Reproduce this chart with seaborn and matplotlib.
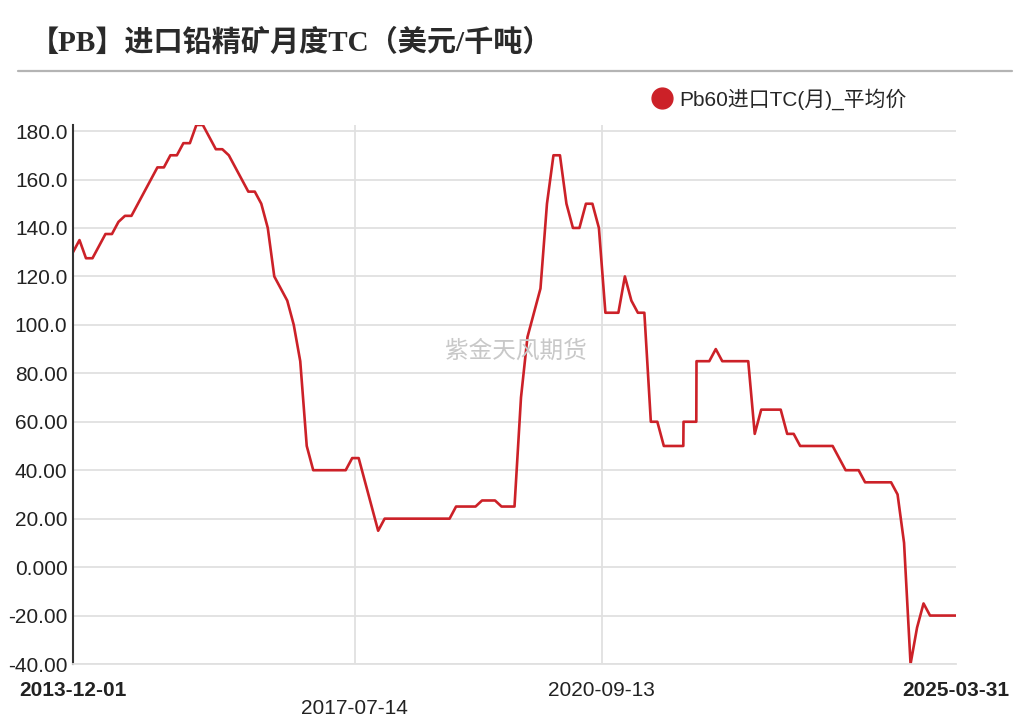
import matplotlib
matplotlib.use("Agg")
import matplotlib.pyplot as plt
from matplotlib.lines import Line2D
import seaborn as sns
import pandas as pd

# monthly TC, 2013-12 .. 2025-03
tc = [130, 135, 127.5, 127.5, 132.5, 137.5, 137.5, 142.5, 145, 145,
      150, 155, 160, 165, 165, 170, 170, 175, 175, 182.5,
      182.5, 177.5, 172.5, 172.5, 170, 165, 160, 155, 155, 150,
      140, 120, 115, 110, 100, 85, 50, 40, 40, 40,
      40, 40, 40, 45, 45, 35, 25, 15, 20, 20,
      20, 20, 20, 20, 20, 20, 20, 20, 20, 25,
      25, 25, 25, 27.5, 27.5, 27.5, 25, 25, 25, 70,
      95, 105, 115, 150, 170, 170, 150, 140, 140, 150,
      150, 140, 105, 105, 105, 120, 110, 105, 105, 60,
      60, 50, 50, 50, 50, 60, 60, 85, 85, 90,
      85, 85, 85, 85, 85, 55, 65, 65, 65, 65,
      55, 55, 50, 50, 50, 50, 50, 50, 45, 40,
      40, 40, 35, 35, 35, 35, 35, 30, 10, -40,
      -25, -15, -20, -20, -20, -20, -20]
# same-month revisions (vertical steps in the source line)
step_idx = [94, 96]
step_val = [60, 85]

start, end = "2013-12-01", "2025-03-31"
xtick_dates = ["2013-12-01", "2017-07-14", "2020-09-13", "2025-03-31"]
ytick_vals = [-40, -20, 0, 20, 40, 60, 80, 100, 120, 140, 160, 180]
ytick_labels = ["-40.00", "-20.00", "0.000", "20.00", "40.00", "60.00",
                "80.00", "100.0", "120.0", "140.0", "160.0", "180.0"]

dates = pd.date_range(start, end, periods=len(tc))
df = pd.DataFrame({"date": dates, "tc": tc})
extra = pd.DataFrame({"date": [dates[i] + pd.Timedelta(days=1) for i in step_idx],
                      "tc": step_val})
df = pd.concat([df, extra]).sort_values("date").reset_index(drop=True)

sns.set_theme(style="white")
plt.rcParams["font.family"] = ["Liberation Sans", "Noto Sans CJK SC", "DejaVu Sans"]

fig = plt.figure(figsize=(10.31, 7.19), dpi=100)
ax = fig.add_axes([73 / 1031, 55 / 719, 883 / 1031, 539 / 719])

red = "#cc2128"
grid_c = "#e0e0e0"

for v in ytick_vals:
    ax.axhline(v, color=grid_c, lw=1.3, zorder=0)
for d in xtick_dates[1:3]:
    ax.axvline(pd.Timestamp(d), color=grid_c, lw=1.3, zorder=0)

sns.lineplot(data=df, x="date", y="tc", estimator=None, sort=False,
             color=red, lw=1.9, ax=ax)

ax.set_xlim(pd.Timestamp(start), pd.Timestamp(end))
ax.set_ylim(-40, 182.5)
ax.set_xlabel("")
ax.set_ylabel("")

ax.set_yticks(ytick_vals)
ax.set_yticklabels(ytick_labels, fontsize=15, color="#222222")
ax.set_xticks([pd.Timestamp(d) for d in xtick_dates])
ax.set_xticklabels(xtick_dates, fontsize=15, color="#222222")
ax.tick_params(axis="both", length=0)
ax.tick_params(axis="y", pad=4)
ax.tick_params(axis="x", pad=12)
labels = ax.get_xticklabels()
labels[0].set_fontweight("bold")
labels[-1].set_fontweight("bold")
ax.xaxis.get_major_ticks()[1].set_pad(25)

for s in ["top", "right"]:
    ax.spines[s].set_visible(False)
ax.spines["left"].set_color("#333333")
ax.spines["left"].set_linewidth(1.5)
ax.spines["bottom"].set_color(grid_c)
ax.spines["bottom"].set_linewidth(1.3)

# watermark
ax.text(0.502, 0.581, "紫金天风期货", transform=ax.transAxes, ha="center", va="center",
        fontsize=17, color="#c8c8c8", family=["Noto Sans CJK SC"])

# title and rule
fig.text(30 / 1031, 1 - 43 / 719, "【PB】进口铅精矿月度TC（美元/千吨）",
         fontsize=21, fontweight="bold", color="#2a2a2a",
         family=["Liberation Serif", "Noto Sans CJK SC"], va="center")
fig.add_artist(Line2D([18 / 1031, 1012 / 1031], [1 - 71 / 719, 1 - 71 / 719],
                      color="#b4b4b4", lw=1.6, transform=fig.transFigure))

handle = Line2D([], [], marker="o", color=red, ls="", markersize=15)
fig.legend([handle], ["Pb60进口TC(月)_平均价"], loc="center left",
           bbox_to_anchor=(652 / 1031, 1 - 99 / 719), frameon=False,
           handlelength=1, handletextpad=0.3, borderpad=0, borderaxespad=0,
           prop={"size": 15, "family": ["Liberation Sans", "Noto Sans CJK SC"]})

fig.savefig("out.png", dpi=100)
